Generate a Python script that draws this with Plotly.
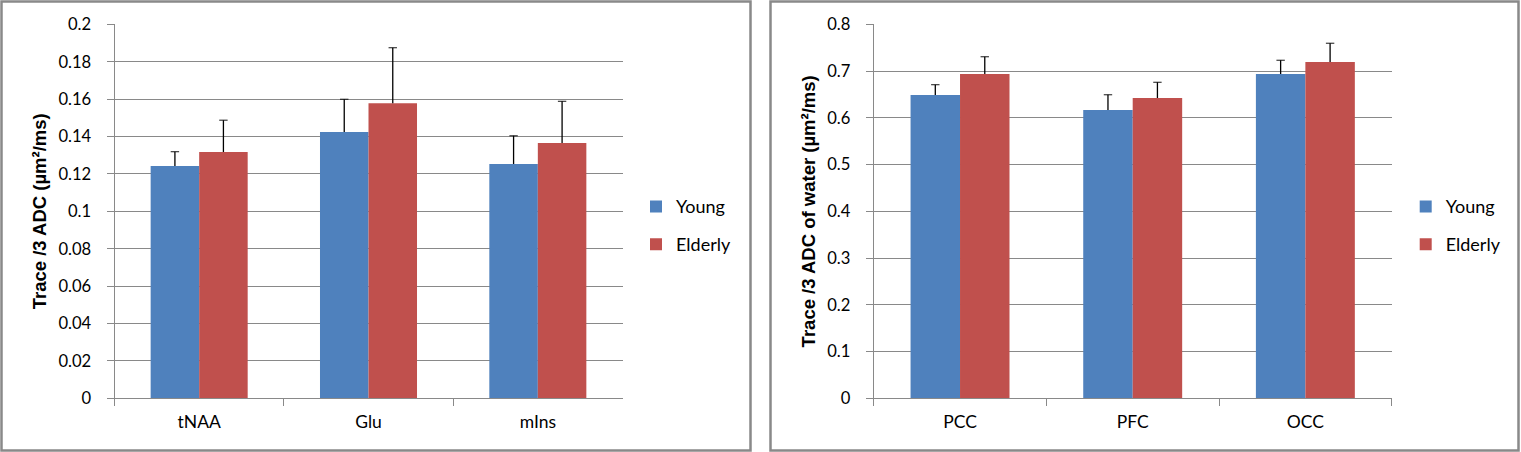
import plotly.graph_objects as go
from plotly.subplots import make_subplots

# left panel: metabolites
metab = ["tNAA", "Glu", "mIns"]
metab_young = [0.1242, 0.1424, 0.1253]
metab_young_sd = [0.0077, 0.0175, 0.0151]
metab_elderly = [0.1317, 0.1578, 0.1365]
metab_elderly_sd = [0.0170, 0.0297, 0.0223]

# right panel: water
regions = ["PCC", "PFC", "OCC"]
water_young = [0.6488, 0.6167, 0.6937]
water_young_sd = [0.0221, 0.0327, 0.0293]
water_elderly = [0.6937, 0.6424, 0.7194]
water_elderly_sd = [0.0370, 0.0335, 0.0400]

BLUE = "#4F81BD"
RED = "#C0504D"
GRID = "#898989"
W, H = 1521, 452


def err_segments(cats, vals, sds):
    # vertical line from bar top to top of error, cap only at the top
    xs, ys, sizes = [], [], []
    for c, v, s in zip(cats, vals, sds):
        xs += [c, c, None]
        ys += [v, v + s, None]
        sizes += [0, 6, 0]
    return xs, ys, sizes


fig = make_subplots(rows=1, cols=2)

panels = [
    (1, "legend", metab, metab_young, metab_young_sd, metab_elderly, metab_elderly_sd),
    (2, "legend2", regions, water_young, water_young_sd, water_elderly, water_elderly_sd),
]
for col, leg, cats, yv, ysd, ev, esd in panels:
    for name, vals, sds, color, grp in [("Young", yv, ysd, BLUE, "y"),
                                         ("Elderly", ev, esd, RED, "e")]:
        fig.add_trace(go.Bar(x=cats, y=vals, name=name, marker_color=color,
                             marker_line_width=0, offsetgroup=grp,
                             legend=leg, legendgroup=name + leg),
                      row=1, col=col)
        xs, ys, sizes = err_segments(cats, vals, sds)
        fig.add_trace(go.Scatter(x=xs, y=ys, mode="lines+markers", offsetgroup=grp,
                                 line=dict(color="black", width=1.3),
                                 marker=dict(symbol="line-ew", size=sizes,
                                             line=dict(color="black", width=1.3)),
                                 showlegend=False, hoverinfo="skip", legend=leg),
                      row=1, col=col)

tick_font = dict(family="Lato, sans-serif", size=16.6, color="black")
xtick_font = dict(family="Lato, sans-serif", size=17.5, color="black")
title_font = dict(family="Liberation Sans, Arial, sans-serif", size=18.5, color="black")

common_x = dict(type="category", showline=True, linecolor=GRID, linewidth=1,
                ticks="outside", tickson="boundaries", ticklen=7, tickcolor=GRID,
                showgrid=False, tickfont=xtick_font, ticklabelstandoff=8,
                automargin=False)
common_y = dict(showline=True, linecolor=GRID, linewidth=1, ticks="outside",
                ticklen=7, tickcolor=GRID, showgrid=True, gridcolor=GRID,
                gridwidth=1, zeroline=False, tickfont=tick_font,
                ticklabelstandoff=12, automargin=False)

ydom = [(H - 398.3) / H, (H - 24.3) / H]
fig.update_xaxes(domain=[114.5 / W, 622.5 / W], **common_x, row=1, col=1)
fig.update_xaxes(domain=[873.7 / W, 1391.7 / W], **common_x, row=1, col=2)
fig.update_yaxes(domain=ydom, range=[0, 0.2], dtick=0.02, **common_y,
                 title=dict(text="<b>Trace /3 ADC (µm²/ms)</b>", font=title_font,
                            standoff=6),
                 row=1, col=1)
fig.update_yaxes(domain=ydom, range=[0, 0.8], dtick=0.1, **common_y,
                 title=dict(text="<b>Trace /3 ADC of water (µm²/ms)</b>",
                            font=title_font, standoff=6),
                 row=1, col=2)

# panel frames
for x0, x1 in [(1.5, 750.5), (770.5, 1518.5)]:
    fig.add_shape(type="rect", xref="paper", yref="paper",
                  x0=x0 / W, x1=x1 / W, y0=1 - 450.5 / H, y1=1 - 1.5 / H,
                  line=dict(color=GRID, width=2.5), fillcolor="rgba(0,0,0,0)")

legend_common = dict(font=dict(family="Lato, sans-serif", size=18, color="black"),
                     traceorder="grouped", tracegroupgap=11.5, yanchor="middle",
                     xanchor="left", bgcolor="rgba(0,0,0,0)")

fig.update_layout(
    width=W, height=H,
    margin=dict(l=0, r=0, t=0, b=0, autoexpand=False),
    paper_bgcolor="white", plot_bgcolor="white",
    barmode="group", bargap=0.427, bargroupgap=0,
    scattermode="group", scattergap=0.427,
    legend=dict(x=636 / W, y=1 - 225.7 / H, **legend_common),
    legend2=dict(x=1405.7 / W, y=1 - 225.7 / H, **legend_common),
)

# the page body has a default 8px margin; drop it so the figure sits at 0,0
fig.write_html("out.html", config={"displayModeBar": False},
               post_script="document.body.style.margin = '0';")
